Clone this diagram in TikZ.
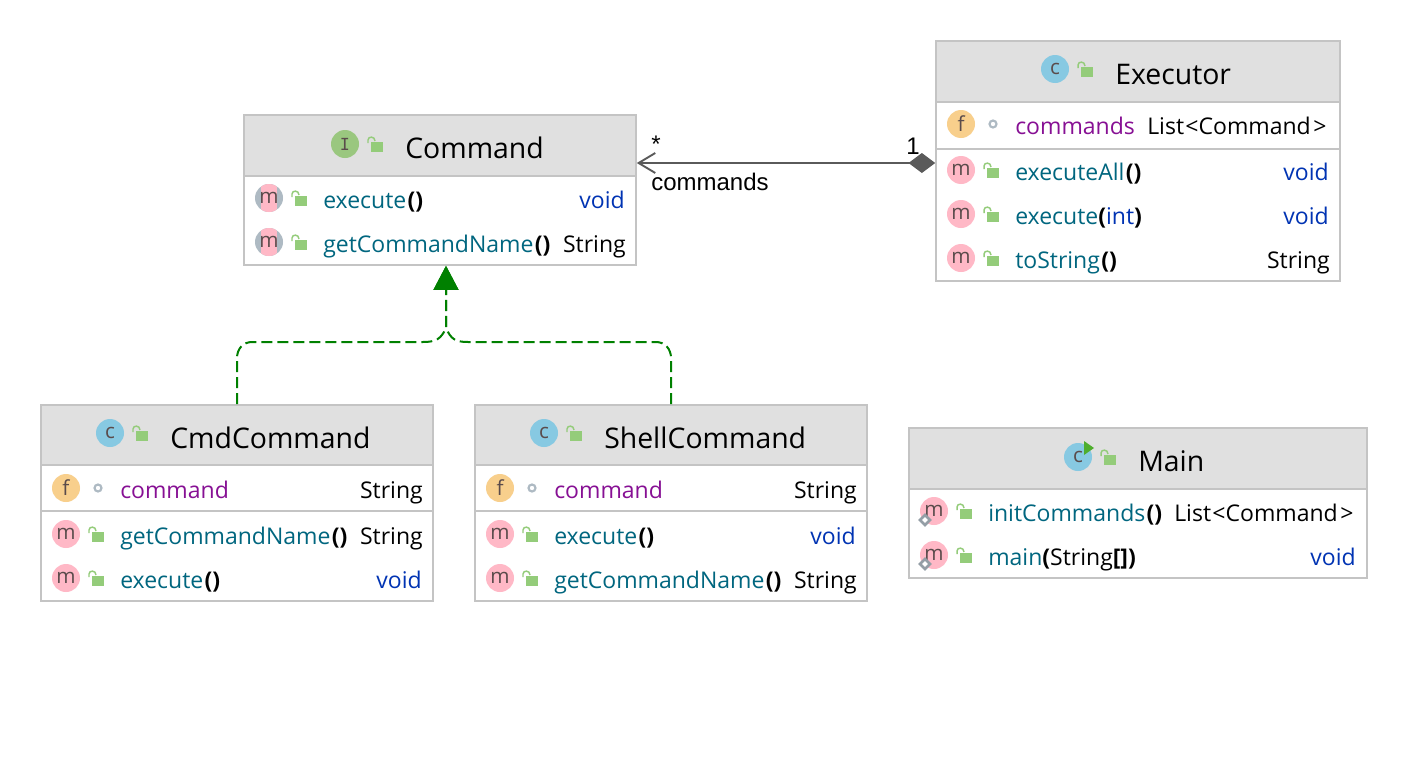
\documentclass[tikz,border=0pt]{standalone}
\usepackage{fontspec}
\setmainfont{Open Sans}
\newfontfamily\arialf{Liberation Sans}
\newfontfamily\monof{DejaVu Sans Mono}
\usetikzlibrary{fit,arrows.meta}
\definecolor{hdr}{HTML}{E0E0E0}
\definecolor{bord}{HTML}{C4C4C4}
\definecolor{mname}{HTML}{00667F}
\definecolor{tvoid}{HTML}{0033B3}
\definecolor{ffield}{HTML}{871094}
\definecolor{ilet}{HTML}{5A4B4B}
\definecolor{pinkic}{HTML}{FFB8C6}
\definecolor{blueic}{HTML}{87C9E2}
\definecolor{orangeic}{HTML}{F8CF8C}
\definecolor{greenic}{HTML}{9AC77F}
\definecolor{grayic}{HTML}{AEBAC3}
\definecolor{lockc}{HTML}{94CC7A}
\definecolor{conn}{HTML}{5A5A5A}
\definecolor{implc}{HTML}{008000}
\definecolor{playc}{HTML}{4FAE2E}
\tikzset{
  boxn/.style={draw=bord,line width=1.2pt,inner sep=0pt,rectangle},
  sepl/.style={draw=bord,line width=1.5pt},
  iconn/.style={circle,inner sep=0pt,minimum size=21pt,text=ilet,font=\fontsize{15.5pt}{15.5pt}\selectfont},
  txtl/.style={anchor=base west,inner sep=0pt,font=\fontsize{17.25pt}{20pt}\selectfont},
  txtr/.style={anchor=base east,inner sep=0pt,font=\fontsize{17.25pt}{20pt}\selectfont},
  titl/.style={anchor=base west,inner sep=0pt,font=\fontsize{21.3pt}{24pt}\selectfont},
  lbl/.style={anchor=base west,inner sep=0pt,font=\fontsize{18pt}{20pt}\arialf},
  assoc/.style={draw=conn,line width=1.4pt},
  impl/.style={draw=implc,line width=1.5pt,dash pattern=on 8.25pt off 3.75pt,
     -{Triangle[length=18pt,width=18.5pt,fill=implc]}},
}
\newcommand\lockat[2]{%
  \begin{scope}[shift={(#1+26,#2-2)}]
    \fill[lockc] (0,0) rectangle (12,10);
    \draw[lockc,line width=1.1pt] (-3,1) -- (-3,-2) .. controls (-3,-6) and (4,-6) .. (4,-1);
  \end{scope}}
\newcommand\iconM[3]{\node[iconn,fill=pinkic] (#1) at (#2,#3) {m};}
\newcommand\iconF[3]{\node[iconn,fill=orangeic] (#1) at (#2,#3) {f};
  \draw[grayic,line width=1.6pt,fill=white] (#2+32,#3) circle[radius=3.5];}
\newcommand\iconC[3]{\node[iconn,fill=blueic] (#1) at (#2,#3) {c};}
\newcommand\iconA[3]{%
  \begin{scope}
    \fill[grayic] (#2,#3) circle[radius=14];
    \clip (#2,#3) circle[radius=14];
    \fill[pinkic] (#2-8,#3-14) rectangle (#2+8,#3+14);
  \end{scope}
  \node[iconn] (#1) at (#2,#3) {m};}
\newcommand\staticmark[2]{%
  \draw[grayic!85!black,line width=1.9pt,fill=white] (#1-9,#2+4) -- (#1-4,#2+9) -- (#1-9,#2+14) -- (#1-14,#2+9) -- cycle;}
\newcommand\mn[1]{\textcolor{mname}{#1}}
\newcommand\pr[1]{\textbf{#1}}
\newcommand\listcmd{List\kern1pt<Command\kern2pt>}
\begin{document}
\begin{tikzpicture}[x=0.75pt,y=-0.75pt]
\useasboundingbox (0,0) rectangle (1408,760);
\fill[white] (0,0) rectangle (1408,760);

% ---- Command
\fill[hdr] (244,115) rectangle (636,176);
\draw[sepl] (244,176) -- (636,176);
\node[boxn,fit={(244,115)(636,265)}] (command) {};
\node[iconn,fill=greenic,font=\fontsize{12.5pt}{12.5pt}\monof] (cmdI) at (345,144) {I};
\lockat{345}{144}
\node[titl] (cmdT) at (405,158) {Command};
\iconA{cmdM1}{269}{198}\lockat{269}{198}
\node[txtl] (cmdR1) at (323,208) {\mn{execute}\kern1pt\pr{()}};
\node[txtr,text=tvoid] (cmdR1t) at (625,208) {void};
\iconA{cmdM2}{269}{242}\lockat{269}{242}
\node[txtl] (cmdR2) at (323,252) {\mn{getCommandName}\kern1pt\pr{()}};
\node[txtr] (cmdR2t) at (626,252) {String};

% ---- Executor
\fill[hdr] (936,41) rectangle (1340,102);
\draw[sepl] (936,102) -- (1340,102);
\draw[sepl] (936,149) -- (1340,149);
\node[boxn,fit={(936,41)(1340,281)}] (executor) {};
\iconC{exeC}{1055}{69}\lockat{1055}{69}
\node[titl] (exeT) at (1115,84) {Executor};
\iconF{exeF}{961}{124}
\node[txtl,text=ffield] (exeR0) at (1015,134) {commands};
\node[txtl] (exeR0t) at (1147,134) {\listcmd};
\iconM{exeM1}{961}{170}\lockat{961}{170}
\node[txtl] (exeR1) at (1015,180) {\mn{executeAll}\kern1pt\pr{()}};
\node[txtr,text=tvoid] (exeR1t) at (1329,180) {void};
\iconM{exeM2}{961}{214}\lockat{961}{214}
\node[txtl] (exeR2) at (1015,224) {\mn{execute}\pr{(}\textcolor{tvoid}{int}\pr{)}};
\node[txtr,text=tvoid] (exeR2t) at (1329,224) {void};
\iconM{exeM3}{961}{258}\lockat{961}{258}
\node[txtl] (exeR3) at (1015,268) {\mn{toString}\kern1pt\pr{()}};
\node[txtr] (exeR3t) at (1330,268) {String};

% ---- CmdCommand
\fill[hdr] (41,405) rectangle (433,465);
\draw[sepl] (41,465) -- (433,465);
\draw[sepl] (41,511) -- (433,511);
\node[boxn,fit={(41,405)(433,601)}] (cmdcommand) {};
\iconC{ccC}{110}{433}\lockat{110}{433}
\node[titl] (ccT) at (170,448) {CmdCommand};
\iconF{ccF}{66}{488}
\node[txtl,text=ffield] (ccR0) at (120,498) {command};
\node[txtr] (ccR0t) at (423,498) {String};
\iconM{ccM1}{66}{534}\lockat{66}{534}
\node[txtl] (ccR1) at (120,544) {\mn{getCommandName}\kern1pt\pr{()}};
\node[txtr] (ccR1t) at (423,544) {String};
\iconM{ccM2}{66}{578}\lockat{66}{578}
\node[txtl] (ccR2) at (120,588) {\mn{execute}\kern1pt\pr{()}};
\node[txtr,text=tvoid] (ccR2t) at (422,588) {void};

% ---- ShellCommand
\fill[hdr] (475,405) rectangle (867,465);
\draw[sepl] (475,465) -- (867,465);
\draw[sepl] (475,511) -- (867,511);
\node[boxn,fit={(475,405)(867,601)}] (shellcommand) {};
\iconC{scC}{544}{433}\lockat{544}{433}
\node[titl] (scT) at (604,448) {ShellCommand};
\iconF{scF}{500}{488}
\node[txtl,text=ffield] (scR0) at (554,498) {command};
\node[txtr] (scR0t) at (857,498) {String};
\iconM{scM1}{500}{534}\lockat{500}{534}
\node[txtl] (scR1) at (554,544) {\mn{execute}\kern1pt\pr{()}};
\node[txtr,text=tvoid] (scR1t) at (856,544) {void};
\iconM{scM2}{500}{578}\lockat{500}{578}
\node[txtl] (scR2) at (554,588) {\mn{getCommandName}\kern1pt\pr{()}};
\node[txtr] (scR2t) at (857,588) {String};

% ---- Main
\fill[hdr] (909,428) rectangle (1367,489);
\draw[sepl] (909,489) -- (1367,489);
\node[boxn,fit={(909,428)(1367,578)}] (mainc) {};
\iconC{mnC}{1078}{457}
\fill[playc] (1084,441) -- (1094,448) -- (1084,455) -- cycle;
\lockat{1078}{457}
\node[titl] (mnT) at (1138,471) {Main};
\iconM{mnM1}{934}{511}\staticmark{934}{511}\lockat{934}{511}
\node[txtl] (mnR1) at (988,521) {\mn{initCommands}\kern1pt\pr{()}};
\node[txtl] (mnR1t) at (1174,521) {\listcmd};
\iconM{mnM2}{934}{555}\staticmark{934}{555}\lockat{934}{555}
\node[txtl] (mnR2) at (988,565) {\mn{main}\pr{(}String\pr{[])}};
\node[txtr,text=tvoid] (mnR2t) at (1356,565) {void};

% ---- Composition
\draw[assoc,{Straight Barb[length=12.5pt,width=15pt,line width=1.4pt]}-{Diamond[length=20pt,width=15pt,fill=conn]}]
  (command.east |- 0,163) -- (executor.west |- 0,163);
\node[lbl] (assocStar) at (651,152) {*};
\node[lbl] (assocOne) at (906,154) {1};
\node[lbl] (assocName) at (651,190) {commands};

% ---- Implementations
\draw[impl] (cmdcommand.north) -- (237,358) .. controls (237,349) and (243,342) .. (252,342)
  -- (423,342) .. controls (436,342) and (441,339) .. (446,328) -- (command.south -| 446,0);
\draw[impl] (shellcommand.north) -- (671,358) .. controls (671,349) and (665,342) .. (656,342)
  -- (468,342) .. controls (455,342) and (451,339) .. (446,328) -- (command.south -| 446,0);
\end{tikzpicture}
\end{document}
